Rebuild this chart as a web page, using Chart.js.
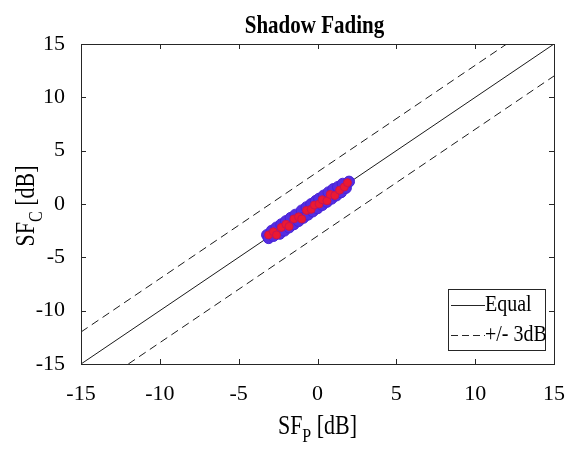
<!DOCTYPE html>
<html>
<head>
<meta charset="utf-8">
<script src="https://cdn.jsdelivr.net/npm/chart.js@4"></script>
<style>
  body { margin: 0; background: #fff; }
  #wrap { width: 575px; height: 450px; }
</style>
</head>
<body>
<div id="wrap"><canvas id="sfChart" width="575" height="450"></canvas></div>
<script>
// Data
// ----------------------------------------------
// blue markers
const sfP = [-3.2, -3.1, -2.9, -2.8, -2.6, -2.4, -2.3, -2.1, -2.0, -1.8, -1.7, -1.5,
             -1.4, -1.2, -1.0, -0.9, -0.7, -0.6, -0.4, -0.3, -0.1, 0.0, 0.1, 0.3,
             0.4, 0.6, 0.7, 0.9, 1.0, 1.2, 1.3, 1.5, 1.6, 1.8, 2.0];
const sfC = [-2.9, -3.2, -2.5, -3.0, -2.2, -2.8, -1.9, -2.5, -1.6, -2.2, -1.3, -1.9,
             -1.0, -1.6, -0.6, -1.3, -0.3, -1.0, 0.0, -0.7, 0.3, -0.4, 0.5, -0.1,
             0.8, 0.2, 1.1, 0.5, 1.4, 0.8, 1.6, 1.1, 1.9, 1.5, 2.1];

// red markers
const sfPRed = [-3.1, -2.8, -2.6, -2.3, -2.0, -1.8, -1.5, -1.2, -1.0, -0.7,
                -0.4, -0.2, 0.1, 0.3, 0.6, 0.8, 1.1, 1.4, 1.7, 1.9];
const sfCRed = [-2.9, -2.6, -2.9, -2.2, -1.9, -2.1, -1.4, -1.2, -1.4, -0.6,
                -0.5, -0.1, 0.0, 0.4, 0.3, 0.9, 0.8, 1.3, 1.6, 2.0];

const equalX  = [-15, 15];
const equalY  = [-15, 15];
const upperX  = [-15, 12];
const upperY  = [-12, 15];
const lowerX  = [-12, 15];
const lowerY  = [-15, 12];

const tickValues = [-15, -10, -5, 0, 5, 10, 15];
const legendLabels = ['Equal', '+/- 3dB'];

const serif = "'Liberation Serif', 'Times New Roman', serif";
const toXY = (xs, ys) => xs.map((x, i) => ({x: x, y: ys[i]}));
const dash = [8, 5];


// Frame, inner ticks, titles and legend (MATLAB look)
// ----------------------------------------------
const matlabDecor = {
    id: 'matlabDecor',
    afterDraw(chart) {
        const ctx = chart.ctx;
        const a = chart.chartArea;
        const xs = chart.scales.x, ys = chart.scales.y;
        ctx.save();

        // box
        ctx.strokeStyle = '#262626';
        ctx.lineWidth = 1;
        ctx.strokeRect(a.left + .5, a.top + .5, a.right - a.left, a.bottom - a.top);

        // inner ticks
        tickValues.forEach(v => {
            const px = Math.round(xs.getPixelForValue(v)) + .5;
            const py = Math.round(ys.getPixelForValue(v)) + .5;
            ctx.beginPath();
            ctx.moveTo(px, a.bottom); ctx.lineTo(px, a.bottom - 5);
            ctx.moveTo(px, a.top);    ctx.lineTo(px, a.top + 5);
            ctx.moveTo(a.left, py);   ctx.lineTo(a.left + 5, py);
            ctx.moveTo(a.right, py);  ctx.lineTo(a.right - 5, py);
            ctx.stroke();
        });

        const cx = (a.left + a.right) / 2;
        const cy = (a.top + a.bottom) / 2;
        ctx.fillStyle = '#000';

        // title (slightly tall, like the exported figure)
        ctx.save();
        ctx.translate(cx - 3, 33);
        ctx.scale(1, 1.2);
        ctx.font = 'bold 21px ' + serif;
        ctx.textAlign = 'center';
        ctx.textBaseline = 'alphabetic';
        ctx.fillText('Shadow Fading', 0, 0);
        ctx.restore();

        // axis title with subscript, drawn around (0, 0)
        const subTitle = (main, sub, rest) => {
            ctx.scale(1, 1.2);
            ctx.textBaseline = 'alphabetic';
            ctx.font = '22px ' + serif;
            const w1 = ctx.measureText(main).width;
            const w3 = ctx.measureText(rest).width;
            ctx.font = '16px ' + serif;
            const w2 = ctx.measureText(sub).width;
            const sx = -(w1 + w2 + w3) / 2;
            ctx.textAlign = 'left';
            ctx.font = '22px ' + serif;
            ctx.fillText(main, sx, 0);
            ctx.font = '16px ' + serif;
            ctx.fillText(sub, sx + w1, 7);
            ctx.font = '22px ' + serif;
            ctx.fillText(rest, sx + w1 + w2, 0);
        };

        ctx.save();
        ctx.translate(cx, 434);
        subTitle('SF', 'P', ' [dB]');
        ctx.restore();

        ctx.save();
        ctx.translate(34, cy + 2);
        ctx.rotate(-Math.PI / 2);
        subTitle('SF', 'C', ' [dB]');
        ctx.restore();

        // legend
        const lx = 448, lt = 289, lw = 97, lh = 61;
        ctx.fillStyle = '#fff';
        ctx.fillRect(lx, lt, lw, lh);
        ctx.strokeStyle = '#262626';
        ctx.strokeRect(lx + .5, lt + .5, lw, lh);
        ctx.fillStyle = '#000';
        ctx.font = '20px ' + serif;
        ctx.textAlign = 'left';
        ctx.textBaseline = 'middle';
        [0, 1].forEach(i => {
            const ry = lt + 16 + i * 30;
            ctx.beginPath();
            ctx.setLineDash(i === 0 ? [] : [7, 4]);
            ctx.moveTo(lx + 3, ry + .5);
            ctx.lineTo(lx + 37, ry + .5);
            ctx.stroke();
            ctx.setLineDash([]);
            ctx.save();
            ctx.translate(lx + 37, ry);
            ctx.scale(1, 1.15);
            ctx.fillText(legendLabels[i], 0, 0);
            ctx.restore();
        });

        ctx.restore();
    }
};


// Chart
// ----------------------------------------------
const sfChart = new Chart(
    document.getElementById('sfChart'), {
        type: 'scatter',
        data: {
            datasets: [
                {
                    // red dots on top
                    label: 'Measured (red)',
                    data: toXY(sfPRed, sfCRed),
                    backgroundColor: 'rgb(235, 25, 50)',
                    borderColor: 'rgb(200, 20, 80)',
                    borderWidth: 1,
                    pointRadius: 4,
                    order: 0
                },
                {
                    // blue circles underneath
                    label: 'Measured (blue)',
                    data: toXY(sfP, sfC),
                    backgroundColor: 'rgb(85, 45, 225)',
                    borderColor: 'rgb(70, 35, 215)',
                    borderWidth: 1,
                    pointRadius: 5.5,
                    order: 1
                },
                {
                    label: legendLabels[0],
                    data: toXY(equalX, equalY),
                    showLine: true,
                    borderColor: '#1a1a1a',
                    borderWidth: 1,
                    pointRadius: 0,
                    order: 2
                },
                {
                    label: legendLabels[1],
                    data: toXY(upperX, upperY),
                    showLine: true,
                    borderColor: '#1a1a1a',
                    borderWidth: 1,
                    borderDash: dash,
                    pointRadius: 0,
                    order: 2
                },
                {
                    label: legendLabels[1],
                    data: toXY(lowerX, lowerY),
                    showLine: true,
                    borderColor: '#1a1a1a',
                    borderWidth: 1,
                    borderDash: dash,
                    pointRadius: 0,
                    order: 2
                }
            ]
        },
        options: {
            responsive: false,
            animation: false,
            layout: { padding: { top: 44, right: 21, left: 0, bottom: 0 } },
            plugins: {
                legend: { display: false },
                tooltip: { enabled: false }
            },
            scales: {
                x: {
                    type: 'linear',
                    min: -15,
                    max: 15,
                    grid: { display: false },
                    border: { display: false },
                    afterFit: scale => { scale.height = 86; },
                    afterBuildTicks: scale => { scale.ticks = tickValues.map(v => ({value: v})); },
                    ticks: {
                        font: { family: serif, size: 22 },
                        color: '#000',
                        padding: 9,
                        maxRotation: 0
                    }
                },
                y: {
                    type: 'linear',
                    min: -15,
                    max: 15,
                    grid: { display: false },
                    border: { display: false },
                    afterFit: scale => { scale.width = 81; },
                    afterBuildTicks: scale => { scale.ticks = tickValues.map(v => ({value: v})); },
                    ticks: {
                        font: { family: serif, size: 22 },
                        color: '#000',
                        padding: 8
                    }
                }
            }
        },
        plugins: [matlabDecor]
    }
);
</script>
</body>
</html>
